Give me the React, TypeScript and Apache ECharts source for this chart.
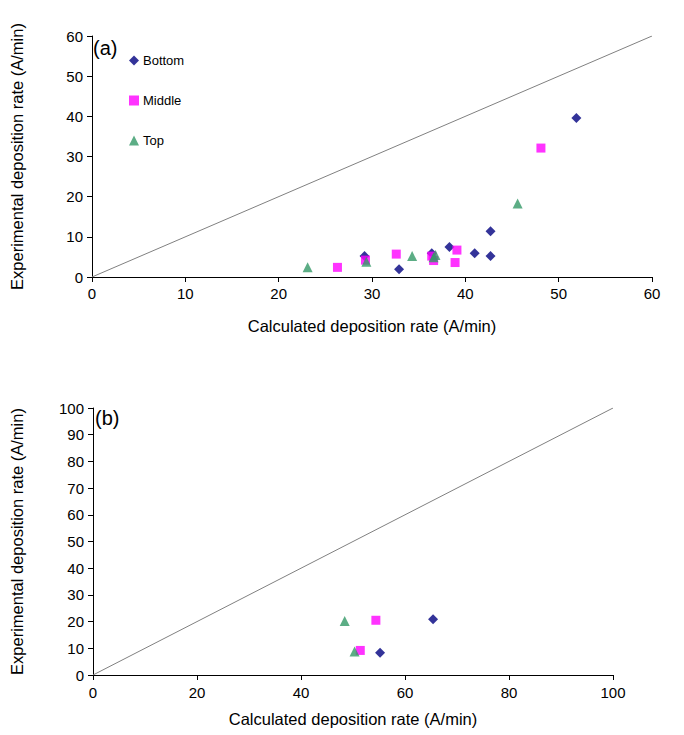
import React, { useEffect, useRef } from "react";
import * as echarts from "echarts";

// Panel (a)
const bottomA: number[][] = [[29.2, 5.2], [32.9, 1.9], [36.4, 5.9], [38.3, 7.5], [41.0, 5.9], [42.7, 11.4], [42.7, 5.2], [51.9, 39.6]];
const middleA: number[][] = [[26.3, 2.4], [29.3, 4.2], [32.6, 5.7], [36.4, 5.2], [36.6, 4.1], [38.9, 3.6], [39.1, 6.7], [48.1, 32.1]];
const topA: number[][] = [[23.1, 2.4], [29.4, 3.8], [34.3, 5.2], [36.6, 4.9], [36.8, 5.5], [45.6, 18.3]];
const diagA: number[][] = [[0, 0], [60, 60]];

// Panel (b)
const bottomB: number[][] = [[65.4, 20.9], [55.2, 8.3]];
const middleB: number[][] = [[54.4, 20.5], [51.4, 9.2]];
const topB: number[][] = [[48.4, 20.2], [50.3, 8.8]];
const diagB: number[][] = [[0, 0], [100, 100]];

const seriesNames = ["Bottom", "Middle", "Top"];
const xName = "Calculated deposition rate (A/min)";
const yName = "Experimental deposition rate (A/min)";

const FONT = "Liberation Sans, Arial, sans-serif";
const C_BOTTOM = "#000080";
const C_MIDDLE = "#FF00FF";
const C_TOP = "#339966";

export default function App() {
  const ref = useRef<HTMLDivElement>(null);
  useEffect(() => {
    if (!ref.current) return;
    const chart = echarts.init(ref.current, undefined, { renderer: "svg" });
    const axisCommon = {
      axisLine: { show: true, lineStyle: { color: "#000", width: 1 } },
      axisTick: { show: true, inside: false, length: 5, lineStyle: { color: "#000" } },
      splitLine: { show: false },
      axisLabel: { color: "#000", fontSize: 15, fontFamily: FONT },
      nameLocation: "middle" as const,
      nameTextStyle: { color: "#000", fontSize: 16.5, fontFamily: FONT },
    };
    const sym = (name: string, xi: number, data: number[][]) => {
      const cfg: any = {
        Bottom: { symbol: "diamond", symbolSize: 10, color: C_BOTTOM },
        Middle: { symbol: "rect", symbolSize: 9, color: C_MIDDLE },
        Top: { symbol: "triangle", symbolSize: 10, color: C_TOP },
      }[name];
      return {
        type: "scatter",
        name,
        xAxisIndex: xi,
        yAxisIndex: xi,
        data,
        symbol: cfg.symbol,
        symbolSize: cfg.symbolSize,
        itemStyle: { color: cfg.color },
      };
    };
    const diag = (xi: number, data: number[][]) => ({
      type: "line",
      xAxisIndex: xi,
      yAxisIndex: xi,
      data,
      showSymbol: false,
      symbol: "none",
      lineStyle: { color: "#808080", width: 1 },
      silent: true,
      z: 1,
    });
    chart.setOption({
      animation: false,
      backgroundColor: "#fff",
      textStyle: { fontFamily: FONT },
      grid: [
        { left: 86, top: 36, width: 566, height: 241 },
        { left: 88, top: 408, width: 525, height: 267 },
      ],
      xAxis: [
        { ...axisCommon, type: "value", gridIndex: 0, min: 0, max: 60, interval: 10, name: xName, nameGap: 40, axisLabel: { ...axisCommon.axisLabel, margin: 9 } },
        { ...axisCommon, type: "value", gridIndex: 1, min: 0, max: 100, interval: 20, name: xName, nameGap: 35, axisLabel: { ...axisCommon.axisLabel, margin: 10 } },
      ],
      yAxis: [
        { ...axisCommon, type: "value", gridIndex: 0, min: 0, max: 60, interval: 10, name: yName, nameGap: 67, axisLabel: { ...axisCommon.axisLabel, margin: 9 } },
        { ...axisCommon, type: "value", gridIndex: 1, min: 0, max: 100, interval: 10, name: yName, nameGap: 68, axisLabel: { ...axisCommon.axisLabel, margin: 9 } },
      ],
      legend: {
        show: true,
        orient: "vertical",
        left: 124,
        top: 49,
        itemGap: 27,
        itemWidth: 10,
        itemHeight: 10,
        data: seriesNames,
        textStyle: { color: "#000", fontSize: 13, fontFamily: FONT, padding: [0, 0, 0, -1] },
      },
      graphic: [
        { type: "text", x: 93, y: 47.5, style: { text: "(a)", fontSize: 20, fontFamily: FONT, fill: "#000", textAlign: "left", textVerticalAlign: "middle" } },
        { type: "text", x: 95, y: 418, style: { text: "(b)", fontSize: 20, fontFamily: FONT, fill: "#000", textAlign: "left", textVerticalAlign: "middle" } },
      ],
      series: [
        diag(0, diagA),
        sym("Bottom", 0, bottomA),
        sym("Middle", 0, middleA),
        sym("Top", 0, topA),
        diag(1, diagB),
        { ...sym("Bottom", 1, bottomB), name: "Bottom b" },
        { ...sym("Middle", 1, middleB), name: "Middle b" },
        { ...sym("Top", 1, topB), name: "Top b" },
      ],
    });
    return () => chart.dispose();
  }, []);
  return <div ref={ref} style={{ position: "fixed", left: 0, top: 0, width: 684, height: 735 }} />;
}
